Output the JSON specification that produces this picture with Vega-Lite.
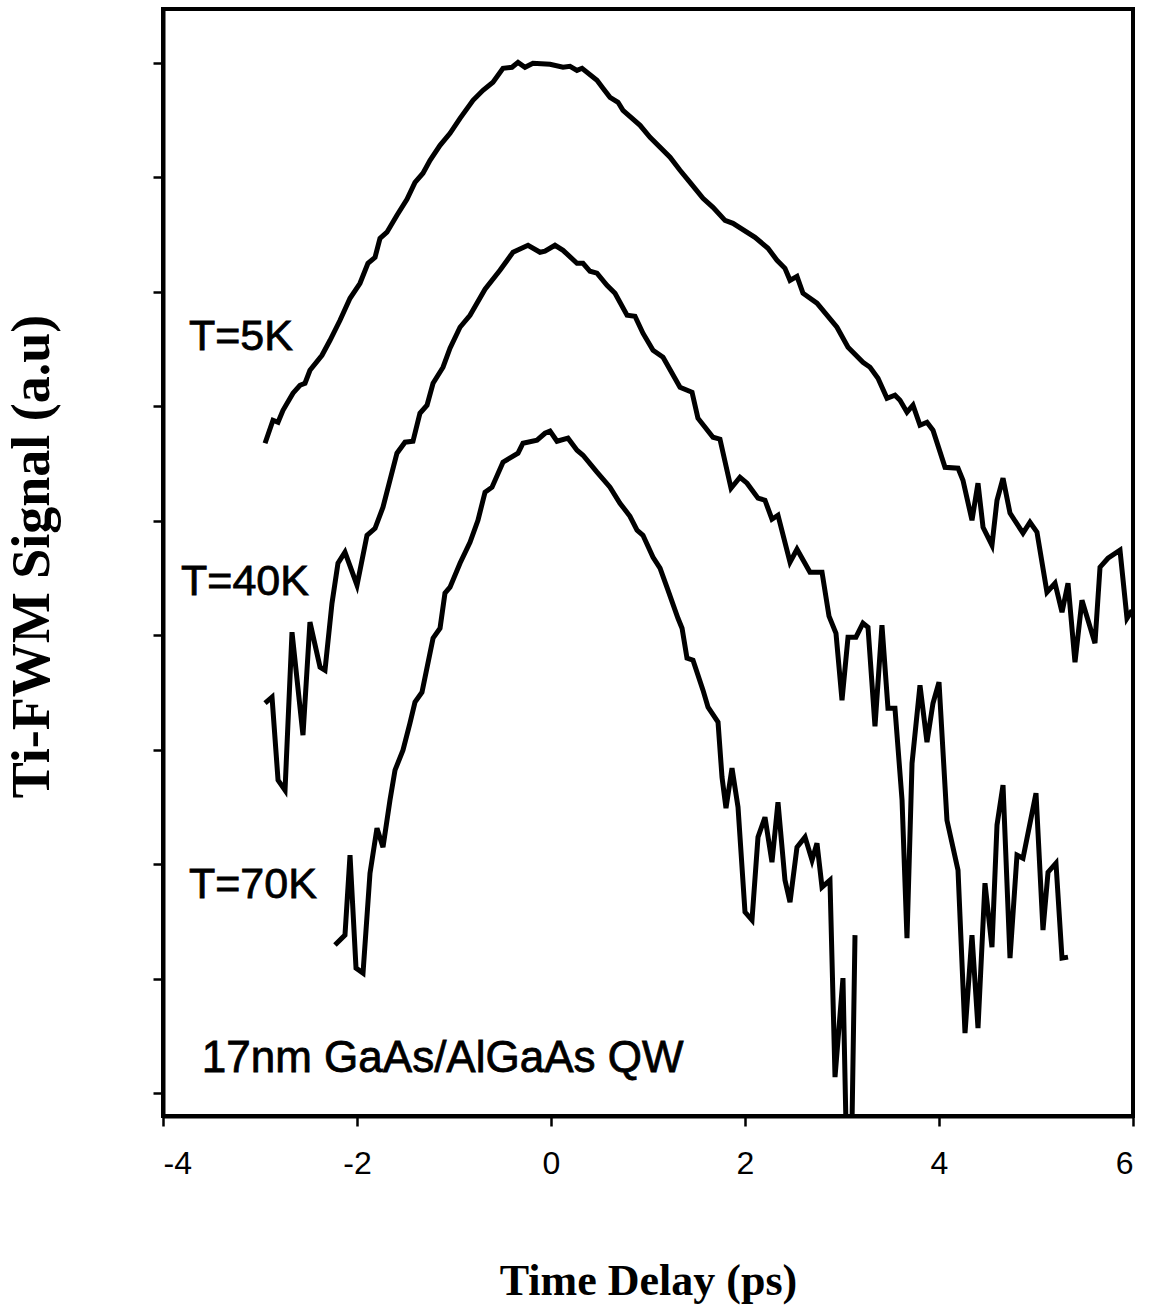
{
  "$schema": "https://vega.github.io/schema/vega-lite/v6.json",
  "width": 970,
  "height": 1107,
  "autosize": "none",
  "padding": {"left": 163, "top": 9, "right": 17, "bottom": 193},
  "background": "white",
  "config": {
    "view": {"stroke": "black", "strokeWidth": 4},
    "axis": {"grid": false, "domainColor": "black", "domainWidth": 4, "tickColor": "black", "tickWidth": 2.5, "tickSize": 10, "labelColor": "black", "titleColor": "black"}
  },
  "datasets": {
    "curves": [
      {"series":"5K","delay":-2.948,"signal":5.677},{"series":"5K","delay":-2.866,"signal":5.878},{"series":"5K","delay":-2.814,"signal":5.86},{"series":"5K","delay":-2.763,"signal":5.965},{"series":"5K","delay":-2.66,"signal":6.114},{"series":"5K","delay":-2.588,"signal":6.183},{"series":"5K","delay":-2.536,"signal":6.201},{"series":"5K","delay":-2.485,"signal":6.314},{"series":"5K","delay":-2.361,"signal":6.445},{"series":"5K","delay":-2.278,"signal":6.576},{"series":"5K","delay":-2.175,"signal":6.751},{"series":"5K","delay":-2.072,"signal":6.943},{"series":"5K","delay":-1.969,"signal":7.074},{"series":"5K","delay":-1.887,"signal":7.249},{"series":"5K","delay":-1.814,"signal":7.301},{"series":"5K","delay":-1.763,"signal":7.467},{"series":"5K","delay":-1.691,"signal":7.52},{"series":"5K","delay":-1.588,"signal":7.668},{"series":"5K","delay":-1.485,"signal":7.808},{"series":"5K","delay":-1.402,"signal":7.956},{"series":"5K","delay":-1.32,"signal":8.035},{"series":"5K","delay":-1.247,"signal":8.148},{"series":"5K","delay":-1.144,"signal":8.279},{"series":"5K","delay":-1.041,"signal":8.384},{"series":"5K","delay":-0.938,"signal":8.515},{"series":"5K","delay":-0.804,"signal":8.672},{"series":"5K","delay":-0.701,"signal":8.76},{"series":"5K","delay":-0.598,"signal":8.83},{"series":"5K","delay":-0.495,"signal":8.952},{"series":"5K","delay":-0.402,"signal":8.961},{"series":"5K","delay":-0.34,"signal":9.004},{"series":"5K","delay":-0.268,"signal":8.961},{"series":"5K","delay":-0.186,"signal":8.996},{"series":"5K","delay":-0.01,"signal":8.987},{"series":"5K","delay":0.124,"signal":8.961},{"series":"5K","delay":0.196,"signal":8.969},{"series":"5K","delay":0.268,"signal":8.934},{"series":"5K","delay":0.32,"signal":8.952},{"series":"5K","delay":0.474,"signal":8.847},{"series":"5K","delay":0.536,"signal":8.777},{"series":"5K","delay":0.608,"signal":8.699},{"series":"5K","delay":0.691,"signal":8.655},{"series":"5K","delay":0.742,"signal":8.585},{"series":"5K","delay":0.918,"signal":8.454},{"series":"5K","delay":1.021,"signal":8.349},{"series":"5K","delay":1.227,"signal":8.175},{"series":"5K","delay":1.33,"signal":8.061},{"series":"5K","delay":1.433,"signal":7.956},{"series":"5K","delay":1.567,"signal":7.817},{"series":"5K","delay":1.67,"signal":7.738},{"series":"5K","delay":1.794,"signal":7.624},{"series":"5K","delay":1.876,"signal":7.598},{"series":"5K","delay":2.103,"signal":7.476},{"series":"5K","delay":2.237,"signal":7.38},{"series":"5K","delay":2.33,"signal":7.275},{"series":"5K","delay":2.412,"signal":7.205},{"series":"5K","delay":2.464,"signal":7.1},{"series":"5K","delay":2.536,"signal":7.135},{"series":"5K","delay":2.598,"signal":6.987},{"series":"5K","delay":2.742,"signal":6.9},{"series":"5K","delay":2.948,"signal":6.69},{"series":"5K","delay":3.062,"signal":6.515},{"series":"5K","delay":3.216,"signal":6.384},{"series":"5K","delay":3.289,"signal":6.341},{"series":"5K","delay":3.371,"signal":6.245},{"series":"5K","delay":3.464,"signal":6.07},{"series":"5K","delay":3.546,"signal":6.096},{"series":"5K","delay":3.598,"signal":6.052},{"series":"5K","delay":3.67,"signal":5.948},{"series":"5K","delay":3.732,"signal":6.009},{"series":"5K","delay":3.804,"signal":5.834},{"series":"5K","delay":3.876,"signal":5.86},{"series":"5K","delay":3.938,"signal":5.79},{"series":"5K","delay":4.062,"signal":5.467},{"series":"5K","delay":4.196,"signal":5.459},{"series":"5K","delay":4.247,"signal":5.354},{"series":"5K","delay":4.34,"signal":5.004},{"series":"5K","delay":4.402,"signal":5.328},{"series":"5K","delay":4.454,"signal":4.943},{"series":"5K","delay":4.546,"signal":4.786},{"series":"5K","delay":4.598,"signal":5.179},{"series":"5K","delay":4.66,"signal":5.371},{"series":"5K","delay":4.732,"signal":5.066},{"series":"5K","delay":4.866,"signal":4.891},{"series":"5K","delay":4.938,"signal":4.987},{"series":"5K","delay":5.01,"signal":4.9},{"series":"5K","delay":5.113,"signal":4.376},{"series":"5K","delay":5.196,"signal":4.454},{"series":"5K","delay":5.268,"signal":4.201},{"series":"5K","delay":5.33,"signal":4.454},{"series":"5K","delay":5.402,"signal":3.764},{"series":"5K","delay":5.474,"signal":4.306},{"series":"5K","delay":5.608,"signal":3.93},{"series":"5K","delay":5.66,"signal":4.594},{"series":"5K","delay":5.742,"signal":4.672},{"series":"5K","delay":5.866,"signal":4.742},{"series":"5K","delay":5.938,"signal":4.148},{"series":"5K","delay":5.99,"signal":4.218},
      {"series":"40K","delay":-2.948,"signal":3.406},{"series":"40K","delay":-2.876,"signal":3.459},{"series":"40K","delay":-2.814,"signal":2.734},{"series":"40K","delay":-2.742,"signal":2.646},{"series":"40K","delay":-2.67,"signal":4.026},{"series":"40K","delay":-2.557,"signal":3.127},{"series":"40K","delay":-2.485,"signal":4.114},{"series":"40K","delay":-2.381,"signal":3.721},{"series":"40K","delay":-2.33,"signal":3.694},{"series":"40K","delay":-2.258,"signal":4.279},{"series":"40K","delay":-2.196,"signal":4.629},{"series":"40K","delay":-2.124,"signal":4.725},{"series":"40K","delay":-2.0,"signal":4.437},{"series":"40K","delay":-1.897,"signal":4.873},{"series":"40K","delay":-1.814,"signal":4.934},{"series":"40K","delay":-1.732,"signal":5.118},{"series":"40K","delay":-1.588,"signal":5.59},{"series":"40K","delay":-1.505,"signal":5.686},{"series":"40K","delay":-1.423,"signal":5.694},{"series":"40K","delay":-1.351,"signal":5.939},{"series":"40K","delay":-1.278,"signal":6.009},{"series":"40K","delay":-1.216,"signal":6.201},{"series":"40K","delay":-1.113,"signal":6.341},{"series":"40K","delay":-1.041,"signal":6.507},{"series":"40K","delay":-0.938,"signal":6.69},{"series":"40K","delay":-0.835,"signal":6.795},{"series":"40K","delay":-0.68,"signal":7.022},{"series":"40K","delay":-0.526,"signal":7.188},{"series":"40K","delay":-0.392,"signal":7.345},{"series":"40K","delay":-0.237,"signal":7.406},{"series":"40K","delay":-0.113,"signal":7.345},{"series":"40K","delay":-0.062,"signal":7.354},{"series":"40K","delay":0.041,"signal":7.406},{"series":"40K","delay":0.124,"signal":7.362},{"series":"40K","delay":0.268,"signal":7.249},{"series":"40K","delay":0.33,"signal":7.249},{"series":"40K","delay":0.402,"signal":7.179},{"series":"40K","delay":0.474,"signal":7.162},{"series":"40K","delay":0.577,"signal":7.057},{"series":"40K","delay":0.66,"signal":6.987},{"series":"40K","delay":0.784,"signal":6.795},{"series":"40K","delay":0.866,"signal":6.786},{"series":"40K","delay":0.948,"signal":6.638},{"series":"40K","delay":1.052,"signal":6.489},{"series":"40K","delay":1.155,"signal":6.428},{"series":"40K","delay":1.33,"signal":6.166},{"series":"40K","delay":1.454,"signal":6.122},{"series":"40K","delay":1.515,"signal":5.895},{"series":"40K","delay":1.67,"signal":5.729},{"series":"40K","delay":1.742,"signal":5.712},{"series":"40K","delay":1.856,"signal":5.284},{"series":"40K","delay":1.948,"signal":5.38},{"series":"40K","delay":2.021,"signal":5.328},{"series":"40K","delay":2.134,"signal":5.197},{"series":"40K","delay":2.206,"signal":5.179},{"series":"40K","delay":2.278,"signal":5.013},{"series":"40K","delay":2.34,"signal":5.048},{"series":"40K","delay":2.464,"signal":4.638},{"series":"40K","delay":2.536,"signal":4.751},{"series":"40K","delay":2.67,"signal":4.55},{"series":"40K","delay":2.794,"signal":4.55},{"series":"40K","delay":2.866,"signal":4.166},{"series":"40K","delay":2.938,"signal":4.017},{"series":"40K","delay":3.0,"signal":3.432},{"series":"40K","delay":3.062,"signal":3.983},{"series":"40K","delay":3.144,"signal":3.983},{"series":"40K","delay":3.216,"signal":4.105},{"series":"40K","delay":3.268,"signal":4.07},{"series":"40K","delay":3.34,"signal":3.205},{"series":"40K","delay":3.412,"signal":4.087},{"series":"40K","delay":3.474,"signal":3.362},{"series":"40K","delay":3.546,"signal":3.362},{"series":"40K","delay":3.619,"signal":2.559},{"series":"40K","delay":3.67,"signal":1.354},{"series":"40K","delay":3.722,"signal":2.882},{"series":"40K","delay":3.804,"signal":3.563},{"series":"40K","delay":3.876,"signal":3.066},{"series":"40K","delay":3.938,"signal":3.406},{"series":"40K","delay":4.0,"signal":3.59},{"series":"40K","delay":4.082,"signal":2.384},{"series":"40K","delay":4.196,"signal":1.948},{"series":"40K","delay":4.268,"signal":0.524},{"series":"40K","delay":4.34,"signal":1.38},{"series":"40K","delay":4.402,"signal":0.568},{"series":"40K","delay":4.474,"signal":1.834},{"series":"40K","delay":4.546,"signal":1.275},{"series":"40K","delay":4.598,"signal":2.341},{"series":"40K","delay":4.66,"signal":2.69},{"series":"40K","delay":4.732,"signal":1.179},{"series":"40K","delay":4.804,"signal":2.079},{"series":"40K","delay":4.866,"signal":2.052},{"series":"40K","delay":5.0,"signal":2.62},{"series":"40K","delay":5.072,"signal":1.424},{"series":"40K","delay":5.124,"signal":1.93},{"series":"40K","delay":5.206,"signal":2.009},{"series":"40K","delay":5.268,"signal":1.179},{"series":"40K","delay":5.33,"signal":1.188},
      {"series":"70K","delay":-2.227,"signal":1.293},{"series":"70K","delay":-2.124,"signal":1.38},{"series":"70K","delay":-2.072,"signal":2.079},{"series":"70K","delay":-2.01,"signal":1.092},{"series":"70K","delay":-1.938,"signal":1.048},{"series":"70K","delay":-1.866,"signal":1.921},{"series":"70K","delay":-1.794,"signal":2.314},{"series":"70K","delay":-1.732,"signal":2.148},{"series":"70K","delay":-1.66,"signal":2.559},{"series":"70K","delay":-1.608,"signal":2.821},{"series":"70K","delay":-1.526,"signal":2.996},{"series":"70K","delay":-1.454,"signal":3.231},{"series":"70K","delay":-1.402,"signal":3.415},{"series":"70K","delay":-1.33,"signal":3.502},{"series":"70K","delay":-1.216,"signal":3.974},{"series":"70K","delay":-1.144,"signal":4.061},{"series":"70K","delay":-1.093,"signal":4.367},{"series":"70K","delay":-1.041,"signal":4.419},{"series":"70K","delay":-0.938,"signal":4.629},{"series":"70K","delay":-0.835,"signal":4.812},{"series":"70K","delay":-0.753,"signal":5.004},{"series":"70K","delay":-0.68,"signal":5.249},{"series":"70K","delay":-0.608,"signal":5.293},{"series":"70K","delay":-0.495,"signal":5.511},{"series":"70K","delay":-0.34,"signal":5.59},{"series":"70K","delay":-0.289,"signal":5.677},{"series":"70K","delay":-0.144,"signal":5.703},{"series":"70K","delay":-0.062,"signal":5.764},{"series":"70K","delay":-0.01,"signal":5.782},{"series":"70K","delay":0.062,"signal":5.694},{"series":"70K","delay":0.175,"signal":5.721},{"series":"70K","delay":0.268,"signal":5.616},{"series":"70K","delay":0.33,"signal":5.572},{"series":"70K","delay":0.474,"signal":5.424},{"series":"70K","delay":0.608,"signal":5.293},{"series":"70K","delay":0.711,"signal":5.153},{"series":"70K","delay":0.814,"signal":5.039},{"series":"70K","delay":0.887,"signal":4.917},{"series":"70K","delay":0.948,"signal":4.873},{"series":"70K","delay":1.052,"signal":4.681},{"series":"70K","delay":1.124,"signal":4.585},{"series":"70K","delay":1.206,"signal":4.393},{"series":"70K","delay":1.309,"signal":4.148},{"series":"70K","delay":1.351,"signal":4.061},{"series":"70K","delay":1.402,"signal":3.799},{"series":"70K","delay":1.464,"signal":3.782},{"series":"70K","delay":1.567,"signal":3.52},{"series":"70K","delay":1.619,"signal":3.371},{"series":"70K","delay":1.722,"signal":3.24},{"series":"70K","delay":1.763,"signal":2.76},{"series":"70K","delay":1.804,"signal":2.489},{"series":"70K","delay":1.866,"signal":2.838},{"series":"70K","delay":1.928,"signal":2.498},{"series":"70K","delay":2.0,"signal":1.581},{"series":"70K","delay":2.072,"signal":1.511},{"series":"70K","delay":2.134,"signal":2.236},{"series":"70K","delay":2.206,"signal":2.41},{"series":"70K","delay":2.278,"signal":2.017},{"series":"70K","delay":2.34,"signal":2.541},{"series":"70K","delay":2.412,"signal":1.86},{"series":"70K","delay":2.464,"signal":1.668},{"series":"70K","delay":2.536,"signal":2.148},{"series":"70K","delay":2.619,"signal":2.236},{"series":"70K","delay":2.691,"signal":2.035},{"series":"70K","delay":2.742,"signal":2.183},{"series":"70K","delay":2.794,"signal":1.799},{"series":"70K","delay":2.876,"signal":1.86},{"series":"70K","delay":2.928,"signal":0.14},{"series":"70K","delay":3.01,"signal":1.004},{"series":"70K","delay":3.041,"signal":-0.28},{"series":"70K","delay":3.103,"signal":-0.28},{"series":"70K","delay":3.134,"signal":1.38}
    ],
    "labels": [
      {"text":"T=5K","kind":"temp","delay":-3.732,"signal":6.489},
      {"text":"T=40K","kind":"temp","delay":-3.814,"signal":4.349},
      {"text":"T=70K","kind":"temp","delay":-3.732,"signal":1.703},
      {"text":"17nm GaAs/AlGaAs QW","kind":"sample","delay":-3.6,"signal":0.183}
    ]
  },
  "layer": [
    {
      "data": {"name": "curves"},
      "mark": {"type": "line", "color": "black", "strokeWidth": 5, "clip": true, "strokeJoin": "miter"},
      "encoding": {
        "x": {
          "field": "delay", "type": "quantitative",
          "scale": {"domain": [-4, 6], "nice": false, "zero": false},
          "axis": {
            "values": [-4, -2, 0, 2, 4, 6],
            "labelExpr": "datum.value < 0 ? '-' + abs(datum.value) : '' + datum.value",
            "labelFont": "Liberation Sans", "labelFontSize": 32, "labelPadding": 22,
            "title": "Time Delay (ps)", "titleFont": "Liberation Serif", "titleFontWeight": "bold", "titleFontSize": 44,
            "titleBaseline": "alphabetic", "titleY": 178
          }
        },
        "y": {
          "field": "signal", "type": "quantitative",
          "scale": {"domain": [-0.2, 9.47], "nice": false, "zero": false},
          "axis": {
            "values": [0, 1, 2, 3, 4, 5, 6, 7, 8, 9], "labels": false,
            "title": "Ti-FWM Signal (a.u)", "titleFont": "Liberation Serif", "titleFontWeight": "bold", "titleFontSize": 54,
            "titleBaseline": "alphabetic", "titleX": -115, "titleY": 547
          }
        },
        "detail": {"field": "series", "type": "nominal"}
      }
    },
    {
      "data": {"name": "labels"},
      "transform": [{"filter": "datum.kind == 'temp'"}],
      "mark": {"type": "text", "align": "left", "baseline": "alphabetic", "font": "Liberation Sans", "fontSize": 43, "color": "black", "stroke": "black", "strokeWidth": 0.8},
      "encoding": {
        "x": {"field": "delay", "type": "quantitative"},
        "y": {"field": "signal", "type": "quantitative"},
        "text": {"field": "text"}
      }
    },
    {
      "data": {"name": "labels"},
      "transform": [{"filter": "datum.kind == 'sample'"}],
      "mark": {"type": "text", "align": "left", "baseline": "alphabetic", "font": "Liberation Sans", "fontSize": 44, "color": "black", "stroke": "black", "strokeWidth": 0.8},
      "encoding": {
        "x": {"field": "delay", "type": "quantitative"},
        "y": {"field": "signal", "type": "quantitative"},
        "text": {"field": "text"}
      }
    }
  ]
}
